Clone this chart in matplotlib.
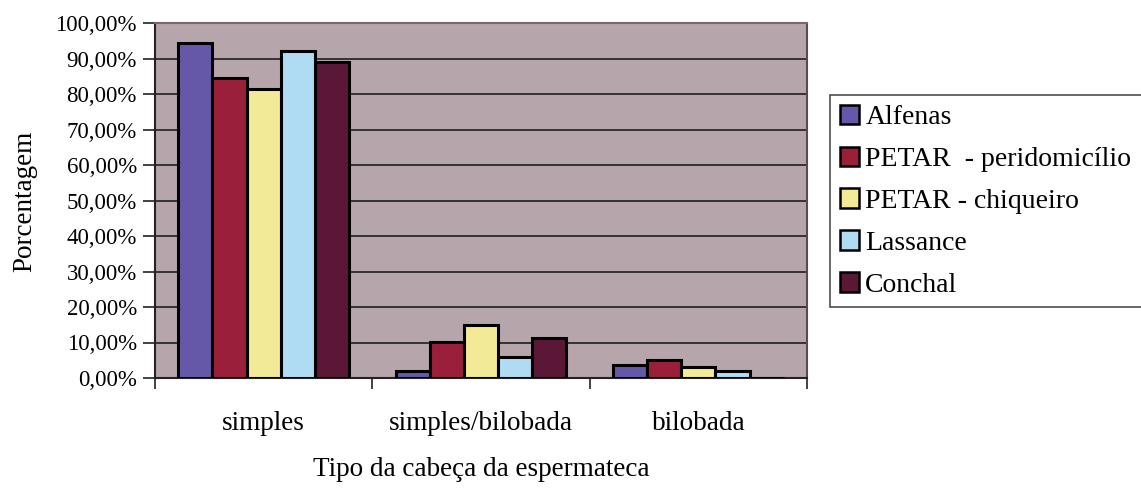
import matplotlib.pyplot as plt
import numpy as np
from matplotlib.patches import Patch

# Data
categories = ['simples', 'simples/bilobada', 'bilobada']
series_names = ['Alfenas', 'PETAR  - peridomicílio', 'PETAR - chiqueiro', 'Lassance', 'Conchal']
alfenas = [94.4, 2.1, 3.7]
petar_peri = [84.6, 10.2, 5.1]
petar_chiq = [81.5, 14.9, 3.1]
lassance = [92.1, 6.0, 2.0]
conchal = [88.9, 11.4, 0.0]
series_values = [alfenas, petar_peri, petar_chiq, lassance, conchal]
colors = ['#6658a8', '#9a1f3a', '#f3ea97', '#b0dcf3', '#5a1836']
y_ticks = [0, 10, 20, 30, 40, 50, 60, 70, 80, 90, 100]

plt.rcParams['font.family'] = ['Liberation Serif', 'DejaVu Serif']

fig = plt.figure(figsize=(11.41, 4.88), dpi=100)
ax = fig.add_axes([155 / 1141, 1 - 378 / 488, 652 / 1141, 355 / 488])
ax.set_facecolor('#b6a5aa')

x = np.arange(len(categories))
bar_w = 0.157
for j, (name, vals) in enumerate(zip(series_names, series_values)):
    ax.bar(x + (j - 2) * bar_w, vals, width=bar_w, color=colors[j],
           edgecolor='black', linewidth=2.2, label=name, zorder=3)

ax.set_xlim(-0.5, 2.5)
ax.set_ylim(0, 100)

# y axis
ax.set_yticks(y_ticks)
ax.set_yticklabels([f'{v:.2f}%'.replace('.', ',') for v in y_ticks], fontsize=16.5)
ax.tick_params(axis='y', direction='out', length=9, width=1.2, pad=4, color='#222')
ax.yaxis.grid(True, color='#2a2a2a', linewidth=1.3, zorder=1)
ax.set_axisbelow(True)

# x axis: ticks at boundaries, labels at centers
ax.set_xticks([-0.5, 0.5, 1.5, 2.5])
ax.set_xticklabels([])
ax.tick_params(axis='x', which='major', direction='out', length=8, width=1.2, color='#222')
ax.set_xticks(x, minor=True)
ax.set_xticklabels(categories, minor=True, fontsize=19.5)
ax.tick_params(axis='x', which='minor', length=0, pad=24)

ax.spines['left'].set_color('#222')
ax.spines['left'].set_linewidth(1.5)
ax.spines['bottom'].set_color('#222')
ax.spines['bottom'].set_linewidth(1.5)
ax.spines['top'].set_color('#7d6470')
ax.spines['top'].set_linewidth(1.5)
ax.spines['right'].set_color('#5a4a52')
ax.spines['right'].set_linewidth(1.5)

fig.text(481 / 1141, 1 - 470 / 488, 'Tipo da cabeça da espermateca',
         ha='center', va='center', fontsize=19.5)
fig.text(25 / 1141, 1 - 201 / 488, 'Porcentagem', rotation=90,
         ha='center', va='center', fontsize=19.5)

handles = [Patch(facecolor=c, edgecolor='black', linewidth=1.8) for c in colors]
leg = fig.legend(handles, series_names, loc='upper left',
                 bbox_to_anchor=(830 / 1141, 1 - 95 / 488, 0.3, 0.0),
                 mode='expand', fontsize=20, frameon=True, fancybox=False,
                 handlelength=0.7, handleheight=0.7, handletextpad=0.22,
                 labelspacing=0.59, borderaxespad=0, borderpad=0.35)
leg.get_frame().set_edgecolor('#222')
leg.get_frame().set_linewidth(1.2)

fig.savefig('out.png', dpi=100)
